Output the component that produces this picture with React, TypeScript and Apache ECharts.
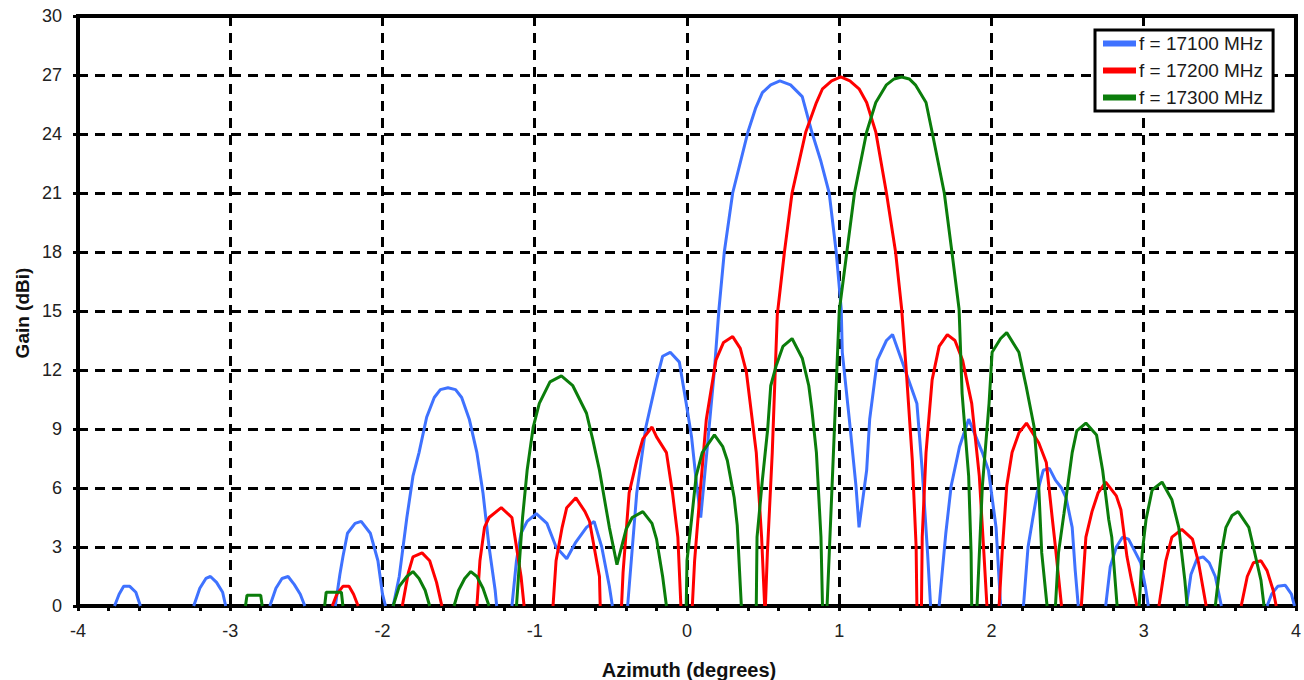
import React, { useEffect, useRef } from "react";
import * as echarts from "echarts";

// Azimuth (degrees) / Gain (dBi) points, grouped in lobes
const blueLobes: number[][][] = [
  [[-3.76, 0], [-3.73, 0.6], [-3.70, 1.0], [-3.66, 1.0], [-3.62, 0.7], [-3.59, 0]],
  [[-3.24, 0], [-3.20, 0.9], [-3.16, 1.4], [-3.13, 1.5], [-3.09, 1.2], [-3.05, 0.7], [-3.03, 0]],
  [[-2.74, 0], [-2.70, 0.9], [-2.66, 1.4], [-2.62, 1.5], [-2.58, 1.1], [-2.54, 0.6], [-2.51, 0]],
  [[-2.31, 0], [-2.28, 1.6], [-2.26, 2.5], [-2.23, 3.7], [-2.18, 4.2], [-2.14, 4.3], [-2.08, 3.7], [-2.03, 2.3], [-2.0, 0.6], [-1.98, 0]],
  [[-1.93, 0], [-1.89, 1.5], [-1.84, 4.5], [-1.80, 6.6], [-1.76, 7.8], [-1.71, 9.6], [-1.66, 10.6], [-1.62, 11.0], [-1.57, 11.1], [-1.52, 11.0], [-1.48, 10.6], [-1.43, 9.5], [-1.38, 7.8], [-1.34, 5.75], [-1.30, 3.0], [-1.26, 0.8], [-1.25, 0]],
  [[-1.15, 0], [-1.12, 2.3], [-1.09, 3.7], [-1.05, 4.3], [-0.99, 4.7], [-0.92, 4.2], [-0.86, 3.0], [-0.79, 2.4], [-0.73, 3.25], [-0.66, 4.0], [-0.61, 4.3], [-0.56, 3.0], [-0.51, 1.0], [-0.49, 0]],
  [[-0.39, 0], [-0.33, 5.75], [-0.27, 9.1], [-0.20, 11.5], [-0.16, 12.7], [-0.11, 12.9], [-0.05, 12.4], [-0.005, 10.3], [0.03, 8.6], [0.06, 6.4], [0.09, 4.5], [0.13, 7.8], [0.18, 12.0], [0.21, 15.1], [0.245, 18.0], [0.30, 21.0], [0.40, 24.1], [0.45, 25.3], [0.495, 26.1], [0.55, 26.5], [0.61, 26.7], [0.68, 26.5], [0.757, 25.9], [0.82, 24.1], [0.88, 22.6], [0.934, 21.0], [0.98, 18.0], [1.013, 15.1], [1.02, 12.9], [1.066, 9.5], [1.11, 6.1], [1.13, 4.0], [1.18, 6.9], [1.20, 9.5], [1.25, 12.5], [1.31, 13.5], [1.35, 13.8], [1.41, 12.5], [1.51, 10.3], [1.545, 6.9], [1.58, 2.7], [1.60, 0]],
  [[1.656, 0], [1.70, 3.7], [1.735, 6.1], [1.79, 8.1], [1.85, 9.5], [1.94, 7.8], [1.98, 6.9], [2.03, 4.0], [2.05, 1.3], [2.06, 0]],
  [[2.21, 0], [2.24, 3.0], [2.27, 4.4], [2.30, 5.75], [2.34, 6.9], [2.38, 7.0], [2.42, 6.4], [2.46, 6.0], [2.49, 5.5], [2.53, 4.0], [2.55, 1.8], [2.57, 0]],
  [[2.75, 0], [2.78, 2.0], [2.82, 3.0], [2.86, 3.5], [2.90, 3.4], [2.94, 2.8], [2.98, 2.2], [3.01, 1.0], [3.03, 0]],
  [[3.28, 0], [3.31, 1.6], [3.35, 2.4], [3.39, 2.5], [3.43, 2.2], [3.47, 1.5], [3.51, 0]],
  [[3.81, 0], [3.84, 0.6], [3.88, 1.0], [3.93, 1.05], [3.97, 0.6], [3.99, 0]],
];

const redLobes: number[][][] = [
  [[-2.33, 0], [-2.30, 0.6], [-2.26, 1.0], [-2.22, 1.0], [-2.19, 0.6], [-2.16, 0]],
  [[-1.87, 0], [-1.83, 1.7], [-1.80, 2.5], [-1.74, 2.7], [-1.69, 2.3], [-1.645, 1.2], [-1.61, 0]],
  [[-1.38, 0], [-1.36, 2.3], [-1.33, 4.0], [-1.30, 4.5], [-1.22, 5.0], [-1.15, 4.5], [-1.12, 3.0], [-1.09, 1.5], [-1.07, 0]],
  [[-0.88, 0], [-0.86, 2.3], [-0.82, 4.0], [-0.79, 5.0], [-0.73, 5.5], [-0.67, 4.8], [-0.64, 4.3], [-0.61, 3.0], [-0.575, 1.5], [-0.57, 0]],
  [[-0.43, 0], [-0.42, 1.7], [-0.38, 5.75], [-0.33, 7.4], [-0.29, 8.5], [-0.23, 9.1], [-0.20, 8.6], [-0.135, 7.8], [-0.095, 5.75], [-0.06, 3.5], [-0.04, 0]],
  [[0.035, 0], [0.05, 2.3], [0.08, 5.2], [0.127, 9.5], [0.19, 12.5], [0.24, 13.4], [0.30, 13.7], [0.35, 13.1], [0.39, 11.9], [0.455, 7.8], [0.49, 3.5], [0.51, 0]],
  [[0.515, 0], [0.528, 2.7], [0.56, 7.8], [0.593, 14.8], [0.64, 18.0], [0.69, 21.0], [0.78, 24.1], [0.85, 25.6], [0.89, 26.3], [0.95, 26.7], [1.01, 26.9], [1.07, 26.7], [1.13, 26.3], [1.18, 25.6], [1.24, 24.1], [1.31, 21.0], [1.37, 18.0], [1.41, 15.1], [1.44, 12.0], [1.48, 7.4], [1.505, 3.0], [1.51, 0]],
  [[1.54, 0], [1.545, 3.5], [1.57, 7.8], [1.61, 11.5], [1.656, 13.2], [1.71, 13.8], [1.76, 13.5], [1.81, 12.5], [1.87, 10.3], [1.92, 6.6], [1.95, 2.7], [1.97, 0]],
  [[2.05, 0], [2.07, 2.7], [2.10, 6.1], [2.135, 7.8], [2.18, 8.8], [2.23, 9.3], [2.31, 8.3], [2.36, 7.3], [2.40, 4.4], [2.42, 3.0], [2.46, 0]],
  [[2.59, 0], [2.62, 3.5], [2.66, 4.8], [2.70, 5.75], [2.75, 6.3], [2.82, 5.6], [2.85, 4.9], [2.89, 2.5], [2.92, 1.3], [2.955, 0]],
  [[3.10, 0], [3.145, 2.3], [3.185, 3.5], [3.25, 3.9], [3.32, 3.4], [3.36, 2.2], [3.41, 0]],
  [[3.64, 0], [3.68, 1.5], [3.72, 2.2], [3.77, 2.3], [3.81, 1.8], [3.85, 0.8], [3.87, 0]],
];

const greenLobes: number[][][] = [
  [[-2.90, 0], [-2.89, 0.55], [-2.80, 0.55], [-2.79, 0]],
  [[-2.38, 0], [-2.37, 0.7], [-2.27, 0.7], [-2.26, 0]],
  [[-1.93, 0], [-1.89, 1.0], [-1.84, 1.5], [-1.80, 1.75], [-1.76, 1.4], [-1.72, 0.8], [-1.69, 0]],
  [[-1.53, 0], [-1.50, 0.8], [-1.46, 1.4], [-1.42, 1.75], [-1.38, 1.5], [-1.34, 0.9], [-1.30, 0]],
  [[-1.12, 0], [-1.10, 2.3], [-1.08, 4.5], [-1.05, 6.9], [-1.01, 9.1], [-0.97, 10.3], [-0.90, 11.4], [-0.825, 11.7], [-0.75, 11.2], [-0.66, 9.8], [-0.62, 8.5], [-0.575, 6.9], [-0.51, 4.0], [-0.46, 2.1], [-0.40, 3.9], [-0.36, 4.5], [-0.29, 4.8], [-0.23, 4.2], [-0.20, 3.4], [-0.16, 1.5], [-0.135, 0]],
  [[-0.005, 0], [0.0, 2.3], [0.03, 4.4], [0.06, 6.6], [0.10, 7.8], [0.18, 8.7], [0.235, 8.1], [0.265, 7.4], [0.31, 5.5], [0.33, 4.1], [0.345, 1.8], [0.357, 0]],
  [[0.455, 0], [0.46, 3.5], [0.495, 6.4], [0.53, 9.0], [0.55, 11.2], [0.585, 12.2], [0.63, 13.2], [0.69, 13.6], [0.757, 12.6], [0.80, 11.2], [0.82, 10.0], [0.85, 7.8], [0.88, 3.5], [0.89, 0]],
  [[0.92, 0], [0.948, 5.2], [0.98, 11.2], [1.0, 15.0], [1.05, 18.0], [1.10, 21.0], [1.18, 24.1], [1.24, 25.6], [1.31, 26.5], [1.36, 26.8], [1.41, 26.9], [1.46, 26.8], [1.50, 26.5], [1.57, 25.6], [1.61, 24.1], [1.69, 21.0], [1.74, 18.0], [1.787, 15.1], [1.807, 10.8], [1.85, 6.6], [1.866, 2.7], [1.87, 0]],
  [[1.905, 0], [1.94, 6.1], [1.984, 10.3], [2.004, 12.9], [2.06, 13.6], [2.10, 13.9], [2.18, 12.9], [2.227, 11.2], [2.28, 9.1], [2.31, 6.1], [2.33, 2.7], [2.365, 0]],
  [[2.42, 0], [2.44, 2.7], [2.476, 4.7], [2.53, 7.8], [2.56, 8.9], [2.62, 9.3], [2.69, 8.7], [2.73, 6.9], [2.77, 4.4], [2.79, 3.5], [2.825, 0]],
  [[2.97, 0], [2.99, 2.7], [3.015, 4.4], [3.055, 5.9], [3.12, 6.3], [3.185, 5.4], [3.23, 4.0], [3.27, 1.3], [3.285, 0]],
  [[3.47, 0], [3.51, 2.7], [3.54, 4.0], [3.58, 4.6], [3.62, 4.8], [3.69, 4.0], [3.72, 3.0], [3.77, 1.3], [3.79, 0]],
];

const seriesNames = ["f = 17100 MHz", "f = 17200 MHz", "f = 17300 MHz"];
const seriesColors = ["#3f72ff", "#ff0000", "#0b7d0b"];
const xTitle = "Azimuth (degrees)";
const yTitle = "Gain (dBi)";

const FONT = "'Liberation Sans', Arial, sans-serif";

export default function App() {
  const ref = useRef<HTMLDivElement>(null);
  useEffect(() => {
    if (!ref.current) return;
    const chart = echarts.init(ref.current, null, { renderer: "svg" });
    const allLobes = [blueLobes, redLobes, greenLobes];
    const series: any[] = [];
    seriesNames.forEach((name, i) => {
      allLobes[i].forEach((lobe) => {
        series.push({
          name,
          type: "line",
          data: lobe,
          showSymbol: false,
          symbol: "none",
          color: seriesColors[i],
          lineStyle: { color: seriesColors[i], width: 3 },
          itemStyle: { color: seriesColors[i] },
          z: 3 + i,
        });
      });
    });
    const option: any = {
      animation: false,
      backgroundColor: "#fff",
      grid: {
        left: 78,
        right: 7,
        top: 16,
        bottom: 74,
        show: true,
        borderColor: "#000",
        borderWidth: 4,
        backgroundColor: "transparent",
      },
      xAxis: {
        type: "value",
        min: -4,
        max: 4,
        interval: 1,
        axisLine: { show: true, onZero: false, lineStyle: { color: "#000", width: 4 } },
        axisTick: { show: true, length: 5, lineStyle: { color: "#000", width: 3 } },
        minorTick: { show: true, splitNumber: 5, length: 5, lineStyle: { color: "#000", width: 3 } },
        splitLine: { show: true, lineStyle: { color: "#000", width: 3, type: [10, 7] } },
        axisLabel: { margin: 16, fontSize: 18, color: "#222", fontFamily: FONT, showMaxLabel: true, showMinLabel: true },
      },
      yAxis: {
        type: "value",
        min: 0,
        max: 30,
        interval: 3,
        axisLine: { show: true, onZero: false, lineStyle: { color: "#000", width: 4 } },
        axisTick: { show: true, length: 5, lineStyle: { color: "#000", width: 3 } },
        splitLine: { show: true, lineStyle: { color: "#000", width: 3, type: [10, 7] } },
        axisLabel: { margin: 16, fontSize: 18, color: "#222", fontFamily: FONT },
      },
      legend: {
        show: true,
        orient: "vertical",
        left: 1095,
        top: 30,
        backgroundColor: "#fff",
        borderColor: "#000",
        borderWidth: 3,
        borderRadius: 0,
        padding: [4, 10, 4, 8],
        itemGap: 8,
        itemWidth: 33,
        itemHeight: 6,
        icon: "rect",
        textStyle: { fontSize: 19, color: "#1a1a1a", fontFamily: FONT, padding: [0, 0, 0, -2] },
        data: seriesNames,
      },
      graphic: [
        {
          type: "text",
          x: 22,
          y: 313,
          rotation: Math.PI / 2,
          style: { text: yTitle, fontSize: 19, fontWeight: "bold", fill: "#111", fontFamily: FONT, textAlign: "center", textVerticalAlign: "middle" },
        },
        {
          type: "text",
          x: 689,
          y: 670,
          style: { text: xTitle, fontSize: 20, fontWeight: "bold", fill: "#111", fontFamily: FONT, textAlign: "center", textVerticalAlign: "middle" },
        },
      ],
      series,
    };
    chart.setOption(option);
    return () => chart.dispose();
  }, []);
  return (
    <div
      ref={ref}
      style={{ position: "absolute", left: 0, top: 0, width: 1304, height: 680 }}
    />
  );
}
